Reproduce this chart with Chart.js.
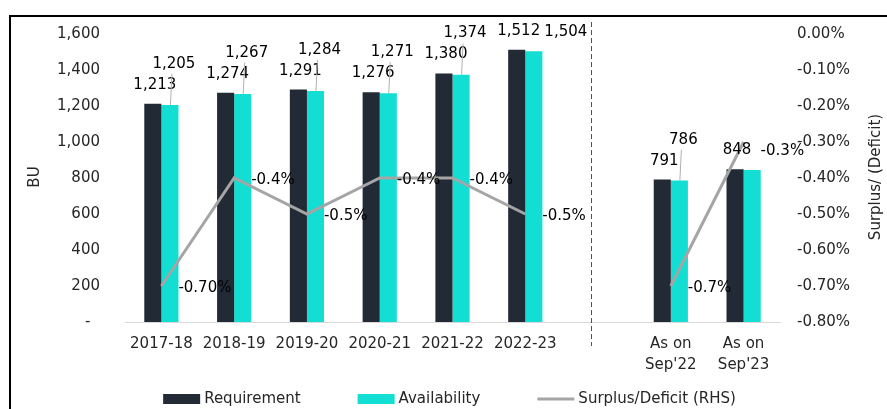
<!DOCTYPE html>
<html>
<head>
<meta charset="utf-8">
<script src="https://cdn.jsdelivr.net/npm/chart.js@4.4.1/dist/chart.umd.min.js"></script>
<style>
html, body { margin: 0; padding: 0; background: #fff; }
canvas { display: block; }
</style>
</head>
<body>
<canvas id="myChart" width="887" height="409"></canvas>
<script>
// data
var categories = ['2017-18', '2018-19', '2019-20', '2020-21', '2021-22', '2022-23', '', ['As on', "Sep'22"], ['As on', "Sep'23"]];
var requirement = [1213, 1274, 1291, 1276, 1380, 1512, null, 791, 848];
var availability = [1205, 1267, 1284, 1271, 1374, 1504, null, 786, 845];
var surplus = [-0.7, -0.4, -0.5, -0.4, -0.4, -0.5, null, -0.7, -0.3];
var surplusLabels = ['-0.70%', '-0.4%', '-0.5%', '-0.4%', '-0.4%', '-0.5%', '', '-0.7%', '-0.3%'];
var seriesNames = ['Requirement', 'Availability', 'Surplus/Deficit (RHS)'];
var leftTicks = [0, 1600, 200];      // min, max, step
var rightTicks = [-0.8, 0, 0.1];

// where the availability label sits (the reference moves some by hand)
var availPlacement = ['above', 'above', 'above', 'above', 'above', 'side', '', 'above', 'none'];

const FONT = '"DejaVu Sans", Verdana, sans-serif';
const FS = 15;
const TEXT = '#262626';
const LABEL = '#000000';
const DARK = '#222A35';
const CYAN = '#12DED3';
const GREY = '#A5A5A5';

const extras = {
  id: 'extras',
  beforeDraw(chart) {
    const ctx = chart.ctx;
    ctx.save();
    ctx.strokeStyle = '#000';
    ctx.lineWidth = 2;
    ctx.beginPath();
    ctx.moveTo(10, 409);
    ctx.lineTo(10, 16);
    ctx.lineTo(887, 16);
    ctx.stroke();
    ctx.restore();
  },
  afterDatasetsDraw(chart) {
    const ctx = chart.ctx;
    const xs = chart.scales.x;
    ctx.save();

    // dashed separator between years and half-year figures
    const sx = Math.round(xs.getPixelForValue(5.9)) + 0.5;
    ctx.strokeStyle = '#44546A';
    ctx.lineWidth = 1;
    ctx.setLineDash([5, 3]);
    ctx.beginPath();
    ctx.moveTo(sx, 22);
    ctx.lineTo(sx, 346);
    ctx.stroke();
    ctx.setLineDash([]);

    ctx.font = FS + 'px ' + FONT;
    ctx.fillStyle = LABEL;
    ctx.textBaseline = 'middle';
    ctx.textAlign = 'center';

    const reqMeta = chart.getDatasetMeta(0);
    const avMeta = chart.getDatasetMeta(1);
    const lineMeta = chart.getDatasetMeta(2);

    for (let i = 0; i < categories.length; i++) {
      if (requirement[i] == null) continue;
      const rb = reqMeta.data[i];
      const ab = avMeta.data[i];
      const ry = rb.y - 19;
      ctx.fillText(requirement[i].toLocaleString('en-US'), rb.x + 2, ry);

      const p = availPlacement[i];
      if (p === 'above') {
        const ax = ab.x + 4;
        const ay = ry - 21;
        ctx.strokeStyle = '#B0B0B0';
        ctx.lineWidth = 1;
        ctx.beginPath();
        ctx.moveTo(ax - 2, ay + 10);
        ctx.lineTo(ab.x + 0.5, ab.y);
        ctx.stroke();
        ctx.fillText(availability[i].toLocaleString('en-US'), ax, ay);
      } else if (p === 'side') {
        ctx.fillText(availability[i].toLocaleString('en-US'), ab.x + 32, ry + 1);
      }
    }

    ctx.textAlign = 'left';
    for (let i = 0; i < surplus.length; i++) {
      if (surplus[i] == null) continue;
      const pt = lineMeta.data[i];
      // last label sits a bit lower in the reference, level with "848"
      const dy = i === surplus.length - 1 ? 9 : 2;
      ctx.fillText(surplusLabels[i], pt.x + 17, pt.y + dy);
    }
    ctx.restore();
  },
  afterDraw(chart) {
    const ctx = chart.ctx;
    const area = chart.chartArea;
    ctx.save();
    ctx.fillStyle = TEXT;

    // axis titles, both reading bottom to top
    ctx.font = '15px ' + FONT;
    ctx.textAlign = 'center';
    ctx.textBaseline = 'middle';
    ctx.save();
    ctx.translate(35, 177);
    ctx.rotate(-Math.PI / 2);
    ctx.fillText('BU', 0, 0);
    ctx.restore();
    ctx.save();
    ctx.translate(876, 177);
    ctx.rotate(-Math.PI / 2);
    ctx.fillText('Surplus/ (Deficit)', 0, 0);
    ctx.restore();

    // legend
    ctx.font = FS + 'px ' + FONT;
    const ds = chart.data.datasets;
    const box = 37, gapText = 4, gapItem = 57;
    const widths = ds.map(d => box + gapText + ctx.measureText(d.label).width);
    const total = widths.reduce((a, b) => a + b, 0) + gapItem * (ds.length - 1);
    let x = (area.left + area.right) / 2 - total / 2 - 3;
    const y = 399;
    ctx.textAlign = 'left';
    ds.forEach((d, i) => {
      if (d.type === 'line') {
        ctx.strokeStyle = d.borderColor;
        ctx.lineWidth = 3;
        ctx.beginPath();
        ctx.moveTo(x, y);
        ctx.lineTo(x + box, y);
        ctx.stroke();
      } else {
        ctx.fillStyle = d.backgroundColor;
        ctx.fillRect(x, y - 5, box, 10);
      }
      ctx.fillStyle = TEXT;
      ctx.fillText(d.label, x + box + gapText, y);
      x += widths[i] + gapItem;
    });
    ctx.restore();
  }
};

let chartOne = document.getElementById('myChart');

const myChart = new Chart(chartOne, {
  type: 'bar',
  data: {
    labels: categories,
    datasets: [{
      label: seriesNames[0],
      data: requirement,
      backgroundColor: DARK,
      categoryPercentage: 0.47,
      barPercentage: 1,
      yAxisID: 'y',
      order: 1
    }, {
      label: seriesNames[1],
      data: availability,
      backgroundColor: CYAN,
      categoryPercentage: 0.47,
      barPercentage: 1,
      yAxisID: 'y',
      order: 1
    }, {
      type: 'line',
      label: seriesNames[2],
      data: surplus,
      borderColor: GREY,
      backgroundColor: GREY,
      borderWidth: 3,
      pointRadius: 0,
      spanGaps: false,
      tension: 0,
      yAxisID: 'y1',
      order: 0
    }]
  },
  options: {
    responsive: false,
    animation: false,
    devicePixelRatio: 1,
    layout: { padding: { top: 34, right: 0, bottom: 0, left: 0 } },
    plugins: {
      legend: { display: false },
      tooltip: { enabled: false }
    },
    scales: {
      x: {
        grid: { display: false, drawTicks: false },
        border: { display: true, color: '#D9D9D9', width: 1 },
        ticks: {
          color: TEXT,
          font: { family: FONT, size: FS, lineHeight: 1.4 },
          padding: 12,
          autoSkip: false,
          maxRotation: 0
        },
        afterFit(scale) { scale.height = 87; }
      },
      y: {
        position: 'left',
        min: leftTicks[0],
        max: leftTicks[1],
        grid: { display: false, drawTicks: false },
        border: { display: false },
        ticks: {
          stepSize: leftTicks[2],
          color: TEXT,
          padding: 25,
          font: { family: FONT, size: FS },
          callback: v => v === 0 ? '-  ' : v.toLocaleString('en-US')
        },
        afterFit(scale) { scale.width = 125; }
      },
      y1: {
        position: 'right',
        min: rightTicks[0],
        max: rightTicks[1],
        grid: { display: false, drawTicks: false },
        border: { display: false },
        ticks: {
          stepSize: rightTicks[2],
          color: TEXT,
          padding: 17,
          font: { family: FONT, size: FS },
          callback: v => v.toFixed(2) + '%'
        },
        afterFit(scale) { scale.width = 107; }
      }
    }
  },
  plugins: [extras]
});
</script>
</body>
</html>
